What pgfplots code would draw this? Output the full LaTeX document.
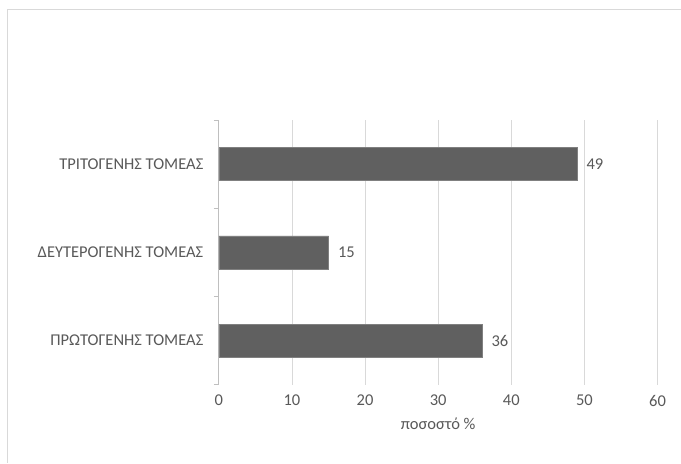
\documentclass[border=0pt]{standalone}
\usepackage{pgfplots}
\pgfplotsset{compat=1.18}
\usepackage{fontspec}
\setmainfont{Carlito}
\definecolor{txt}{RGB}{89,89,89}
\definecolor{barc}{RGB}{96,96,96}
\definecolor{gridc}{RGB}{217,217,217}
\definecolor{axc}{RGB}{191,191,191}
\begin{document}
\begin{tikzpicture}[x=1pt,y=1pt]
\path[fill=white] (0,0) rectangle (681,463);
\draw[gridc, line width=1pt] (8,0) -- (8,453) -- (681,453);
\begin{axis}[
  at={(219pt,78pt)}, anchor=south west,
  scale only axis, width=439pt, height=265pt,
  xbar, bar width=33pt,
  xmin=0, xmax=60, ymin=0.5, ymax=3.5,
  xtick={0,10,...,60},
  ytick={1,2,3},
  yticklabels={ΠΡΩΤΟΓΕΝΗΣ ΤΟΜΕΑΣ, ΔΕΥΤΕΡΟΓΕΝΗΣ ΤΟΜΕΑΣ, ΤΡΙΤΟΓΕΝΗΣ ΤΟΜΕΑΣ},
  minor ytick={0.5,1.5,2.5,3.5},
  major tick length=0pt, minor tick length=5pt,
  tick align=outside,
  minor tick style={axc, line width=0.8pt},
  axis lines*=left,
  x axis line style={draw=none},
  y axis line style={axc, line width=0.8pt, -},
  xmajorgrids, grid style={gridc, line width=0.8pt},
  xticklabel style={yshift=-7pt},
  yticklabel style={xshift=-12pt},
  ticklabel style={font=\fontsize{16.5}{18}\selectfont, text=txt},
  /pgf/number format/assume math mode=true,
  xlabel={ποσοστό \%},
  xlabel style={font=\fontsize{16.5}{18}\selectfont, text=txt, yshift=-5pt},
  nodes near coords,
  every node near coord/.append style={font=\fontsize{16.5}{18}\selectfont, text=txt, anchor=west, xshift=6pt},
  clip=false,
]
\addplot[fill=barc, draw=barc!80!white] coordinates {(36,1) (15,2) (49,3)};
\end{axis}
\end{tikzpicture}
\end{document}
